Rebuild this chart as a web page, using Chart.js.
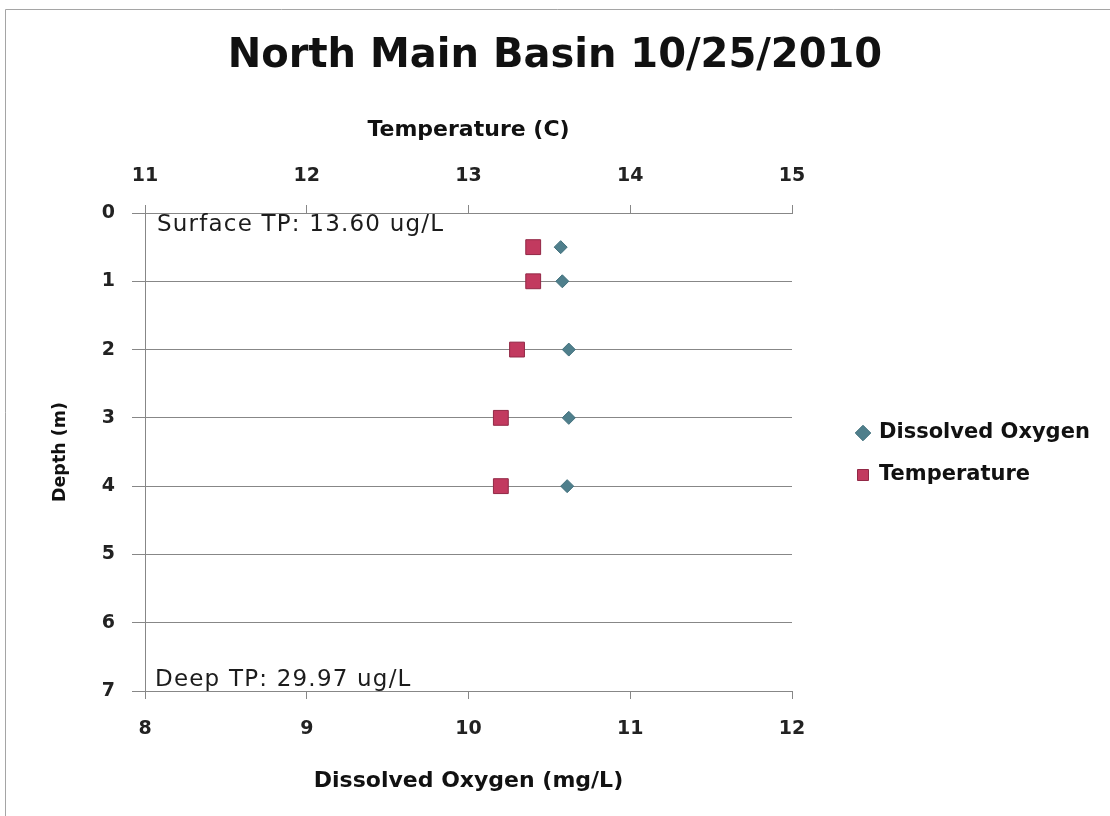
<!DOCTYPE html>
<html>
<head>
<meta charset="utf-8">
<title>North Main Basin 10/25/2010</title>
<script src="https://cdn.jsdelivr.net/npm/chart.js@4/dist/chart.umd.min.js"></script>
<style>
  html, body { margin: 0; padding: 0; background: #fff; }
  #wrap { position: relative; width: 1110px; height: 816px; }
</style>
</head>
<body>
<div id="wrap"><canvas id="chart"></canvas></div>
<script>
// data
const depths = [0.5, 1, 2, 3, 4];
const dissolvedOxygen = [10.57, 10.58, 10.62, 10.62, 10.61];
const temperature = [13.4, 13.4, 13.3, 13.2, 13.2];

const doRange = [8, 12];
const tempRange = [11, 15];
const depthRange = [0, 7];

const seriesNames = ["Dissolved Oxygen", "Temperature"];
const notes = ["Surface TP: 13.60 ug/L", "Deep TP: 29.97 ug/L"];

const FONT = "'DejaVu Sans', 'Open Sans', sans-serif";
const GRID = "#878787";

function toPoints(xs, ys) {
  return xs.map((x, i) => ({ x: x, y: ys[i] }));
}

// white page and the thin frame at top/left
const framePlugin = {
  id: "frame",
  beforeDraw(chart) {
    const ctx = chart.ctx;
    ctx.save();
    ctx.fillStyle = "#fff";
    ctx.fillRect(0, 0, chart.width, chart.height);
    ctx.strokeStyle = "#a5a5a5";
    ctx.lineWidth = 1;
    ctx.beginPath();
    ctx.moveTo(5.5, chart.height);
    ctx.lineTo(5.5, 9.5);
    ctx.lineTo(chart.width, 9.5);
    ctx.stroke();
    ctx.restore();
  }
};

// TP notes inside the plot
const notesPlugin = {
  id: "notes",
  afterDatasetsDraw(chart) {
    const { ctx, chartArea } = chart;
    ctx.save();
    ctx.font = "23px " + FONT;
    ctx.letterSpacing = "1.2px";
    ctx.fillStyle = "#1c1c1c";
    ctx.textBaseline = "middle";
    ctx.textAlign = "left";
    ctx.fillText(notes[0], chartArea.left + 12, chartArea.top + 12);
    ctx.fillText(notes[1], chartArea.left + 10, chartArea.bottom - 11);
    ctx.restore();
  }
};

// keep the legend a fixed width and nudge it right like the original
const legendPlugin = {
  id: "legendFix",
  afterInit(chart) {
    const lg = chart.legend;
    const fit = lg.fit.bind(lg);
    lg.fit = function () {
      fit();
      this.width = 318;
    };
  },
  afterLayout(chart) {
    chart.legend.left += 44.5;
    chart.legend.right += 44.5;
    chart.legend.top += 2;
    chart.legend.bottom += 2;
  }
};

const ctx = document.getElementById("chart").getContext("2d");
new Chart(ctx, {
  type: "scatter",
  data: {
    datasets: [
      {
        label: seriesNames[0],
        data: toPoints(dissolvedOxygen, depths),
        xAxisID: "x",
        pointStyle: "rectRot",
        pointRadius: 6.5,
        pointHoverRadius: 6.5,
        backgroundColor: "#4f7f8c",
        borderColor: "#41707c",
        borderWidth: 1
      },
      {
        label: seriesNames[1],
        data: toPoints(temperature, depths),
        xAxisID: "x2",
        pointStyle: "rect",
        pointRadius: 10.5,
        pointHoverRadius: 10.5,
        backgroundColor: "#c23a5f",
        borderColor: "#922846",
        borderWidth: 1
      }
    ]
  },
  options: {
    responsive: true,
    maintainAspectRatio: false,
    animation: false,
    layout: { padding: 0 },
    plugins: {
      title: {
        display: true,
        text: "North Main Basin 10/25/2010",
        color: "#111",
        font: { family: FONT, size: 40, weight: "bold" },
        padding: { top: 33, bottom: 9 }
      },
      legend: {
        position: "right",
        fullSize: false,
        labels: {
          usePointStyle: true,
          boxWidth: 11,
          boxHeight: 11,
          padding: 21,
          color: "#111",
          font: { family: FONT, size: 21, weight: "bold" }
        }
      },
      tooltip: { enabled: false }
    },
    scales: {
      x: {
        type: "linear",
        position: "bottom",
        min: doRange[0],
        max: doRange[1],
        ticks: {
          stepSize: 1,
          padding: 19,
          color: "#222",
          font: { family: FONT, size: 19, weight: "bold" }
        },
        grid: { drawOnChartArea: false, tickLength: 8, color: GRID },
        border: { display: true, color: GRID },
        title: {
          display: true,
          text: "Dissolved Oxygen (mg/L)",
          color: "#111",
          font: { family: FONT, size: 22, weight: "bold" },
          padding: { top: 0, bottom: 21.8 }
        },
        afterFit(scale) { scale.height = 125; }
      },
      x2: {
        type: "linear",
        position: "top",
        min: tempRange[0],
        max: tempRange[1],
        ticks: {
          stepSize: 1,
          padding: 18,
          color: "#222",
          font: { family: FONT, size: 19, weight: "bold" }
        },
        grid: { drawOnChartArea: false, tickLength: 8, color: GRID },
        border: { display: true, color: GRID },
        title: {
          display: true,
          text: "Temperature (C)",
          color: "#111",
          font: { family: FONT, size: 22, weight: "bold" },
          padding: { top: 26.8, bottom: 0 }
        },
        afterFit(scale) { scale.height = 123; }
      },
      y: {
        type: "linear",
        reverse: true,
        min: depthRange[0],
        max: depthRange[1],
        ticks: {
          stepSize: 1,
          padding: 17,
          color: "#222",
          font: { family: FONT, size: 19, weight: "bold" }
        },
        grid: { color: GRID, tickLength: 13 },
        border: { display: true, color: GRID },
        title: {
          display: true,
          text: "Depth (m)",
          color: "#111",
          font: { family: FONT, size: 17.5, weight: "bold" },
          padding: { top: 49.5, bottom: 0 }
        },
        afterFit(scale) { scale.width = 145; }
      }
    }
  },
  plugins: [framePlugin, notesPlugin, legendPlugin]
});
</script>
</body>
</html>
